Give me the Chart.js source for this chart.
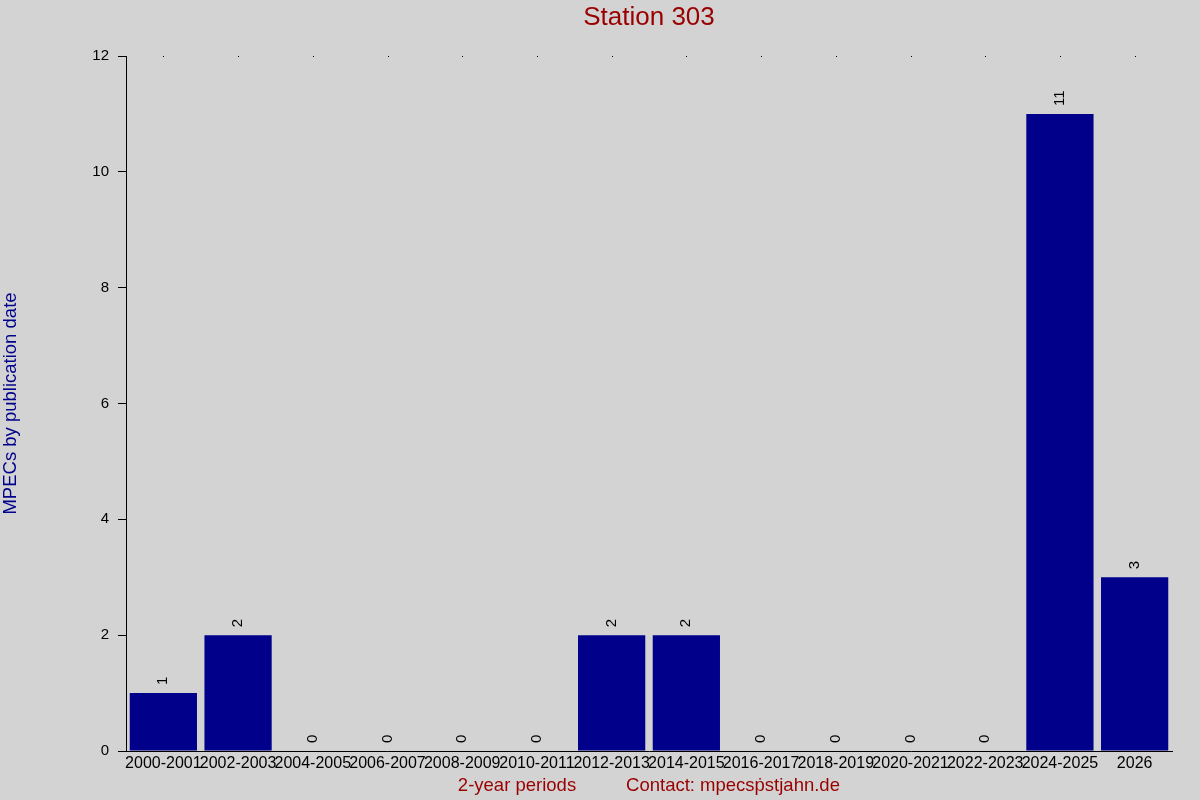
<!DOCTYPE html>
<html>
<head>
<meta charset="utf-8">
<script src="https://cdn.jsdelivr.net/npm/chart.js@4"></script>
<style>
  html, body { margin: 0; padding: 0; background: #d3d3d3; }
  #wrap { width: 1200px; height: 800px; }
</style>
</head>
<body>
<div id="wrap"><canvas id="stationChart" width="1200" height="800"></canvas></div>
<script>
const periods = ['2000-2001', '2002-2003', '2004-2005', '2006-2007', '2008-2009', '2010-2011', '2012-2013',
    '2014-2015', '2016-2017', '2018-2019', '2020-2021', '2022-2023', '2024-2025', '2026'];
const mpecCounts = [1, 2, 0, 0, 0, 0, 2, 2, 0, 0, 0, 0, 11, 3];
const yTicks = [0, 2, 4, 6, 8, 10, 12];

const FONT = 'Liberation Sans, Arial, sans-serif';

// titles, value labels and the little dots along the top edge
const extras = {
    id: 'extras',
    beforeDraw(c) {
        const g = c.ctx;
        g.save();
        g.fillStyle = '#d3d3d3';
        g.fillRect(0, 0, c.width, c.height);
        g.restore();
    },
    afterDraw(c) {
        const g = c.ctx;
        const area = c.chartArea;
        const xs = c.scales.x;
        g.save();
        g.fillStyle = '#990000';
        g.textAlign = 'center';
        g.textBaseline = 'middle';
        g.font = '26px ' + FONT;
        g.fillText('Station 303', (area.left + area.right) / 2, 18);

        g.font = '18.5px ' + FONT;
        g.fillText('2-year periods', 517, 786);
        g.fillText('Contact: mpecs\u1E57stjahn.de', 733, 786);

        g.fillStyle = '#00008b';
        g.translate(11, (area.top + area.bottom) / 2);
        g.rotate(-Math.PI / 2);
        g.fillText('MPECs by publication date', 0, 0);
        g.restore();

        // dots
        g.save();
        g.fillStyle = '#000';
        periods.forEach((p, i) => {
            g.fillRect(Math.round(xs.getPixelForValue(i)), area.top, 1, 1);
        });
        g.restore();

        // value labels
        const meta = c.getDatasetMeta(0);
        g.save();
        g.fillStyle = '#000';
        g.font = '15px ' + FONT;
        g.textAlign = 'left';
        g.textBaseline = 'middle';
        meta.data.forEach((bar, i) => {
            g.save();
            g.translate(bar.x, bar.y - 8);
            g.rotate(-Math.PI / 2);
            g.fillText(String(mpecCounts[i]), 0, 0);
            g.restore();
        });
        g.restore();
    }
};

new Chart(document.getElementById('stationChart'), {
    type: 'bar',
    data: {
        labels: periods,
        datasets: [{
            data: mpecCounts,
            backgroundColor: '#00008b',
            borderWidth: 0,
            barPercentage: 0.9,
            categoryPercentage: 1.0
        }]
    },
    options: {
        responsive: false,
        animation: false,
        devicePixelRatio: 1,
        layout: { padding: { top: 56, right: 28, left: 0, bottom: 0 } },
        plugins: { legend: { display: false }, tooltip: { enabled: false } },
        scales: {
            x: {
                afterFit(s) { s.height = 49; },
                grid: { display: false, drawTicks: false },
                border: { display: true, color: '#000', width: 1 },
                ticks: {
                    color: '#000', font: { family: FONT, size: 16 },
                    maxRotation: 0, minRotation: 0, autoSkip: false, padding: 3
                }
            },
            y: {
                min: 0, max: 12,
                afterFit(s) { s.width = 126; },
                afterBuildTicks(s) { s.ticks = yTicks.map(v => ({ value: v })); },
                grid: { display: true, drawOnChartArea: false, drawTicks: true, tickLength: 8, color: '#000' },
                border: { display: true, color: '#000', width: 1 },
                ticks: { color: '#000', font: { family: FONT, size: 15 }, padding: 9 }
            }
        }
    },
    plugins: [extras]
});
</script>
</body>
</html>
